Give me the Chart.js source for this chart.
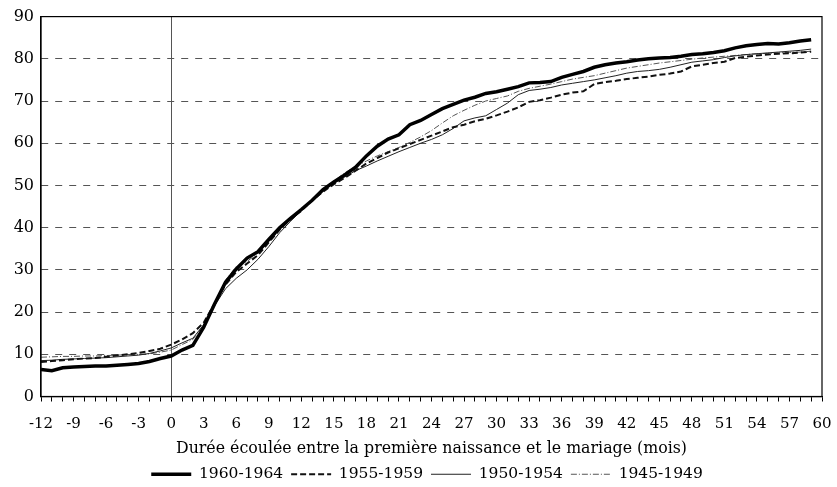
<!DOCTYPE html>
<html>
<head>
<meta charset="utf-8">
<script src="https://cdn.jsdelivr.net/npm/chart.js@4.4.1/dist/chart.umd.min.js"></script>
<style>
  html, body { margin: 0; padding: 0; background: #fff; }
  #wrap { width: 837px; height: 487px; }
</style>
</head>
<body>
<div id="wrap"><canvas id="c" width="837" height="487"></canvas></div>
<script>
const months = [-12,-11,-10,-9,-8,-7,-6,-5,-4,-3,-2,-1,0,1,2,3,4,5,6,7,8,9,10,11,12,13,14,15,16,17,18,19,20,21,22,23,24,25,26,27,28,29,30,31,32,33,34,35,36,37,38,39,40,41,42,43,44,45,46,47,48,49,50,51,52,53,54,55,56,57,58,59];

const cohort1960 = [6.4,6.1,6.8,7.0,7.1,7.2,7.2,7.4,7.6,7.8,8.3,9.0,9.6,11.0,12.1,16.4,21.9,27.0,30.2,32.8,34.3,37.2,40.0,42.2,44.3,46.5,49.0,50.8,52.5,54.3,57.0,59.3,61.0,62.0,64.4,65.4,66.8,68.2,69.2,70.2,70.9,71.8,72.2,72.8,73.4,74.3,74.4,74.6,75.6,76.3,77.0,78.0,78.6,79.0,79.3,79.7,80.0,80.2,80.3,80.6,81.0,81.2,81.5,81.9,82.6,83.1,83.4,83.6,83.5,83.8,84.2,84.5];

const cohort1955 = [8.2,8.4,8.6,8.8,9.0,9.1,9.4,9.7,10.0,10.3,10.8,11.3,12.3,13.5,15.0,17.5,22.0,26.5,29.5,31.5,33.5,36.5,39.5,42.0,44.0,46.5,48.5,50.3,51.8,53.5,55.2,56.5,57.8,58.8,59.8,60.8,61.8,62.8,63.8,64.4,65.2,65.8,66.6,67.5,68.5,69.8,70.2,70.8,71.5,72.0,72.3,74.0,74.5,74.8,75.2,75.5,75.8,76.2,76.5,77.0,78.2,78.6,79.0,79.3,80.2,80.5,80.8,81.0,81.2,81.3,81.5,81.7];

const cohort1950 = [8.5,8.6,8.8,8.9,9.0,9.1,9.2,9.4,9.6,9.8,10.2,10.8,11.5,12.7,13.8,17.0,21.5,25.5,28.0,30.0,32.5,35.5,38.8,41.5,44.0,46.5,48.8,50.5,52.0,53.5,54.6,55.8,56.9,58.0,59.0,60.0,60.9,62.0,63.5,65.3,66.0,66.5,68.0,69.5,71.5,72.5,72.8,73.2,73.8,74.2,74.6,75.0,75.5,76.0,76.6,77.0,77.2,77.5,78.0,78.6,79.2,79.5,79.8,80.3,80.7,81.0,81.2,81.4,81.6,81.8,82.0,82.3];

const cohort1945 = [9.3,9.4,9.5,9.5,9.6,9.6,9.7,9.8,9.9,10.0,10.1,10.5,11.0,12.3,13.5,17.0,22.0,27.5,30.8,32.0,34.0,36.5,39.5,42.0,44.2,46.6,49.0,51.0,53.0,54.5,55.8,57.0,58.0,59.0,60.2,61.5,63.0,64.8,66.5,67.8,69.0,70.0,70.6,71.2,72.3,73.0,73.5,74.0,74.6,75.2,75.6,76.0,76.6,77.2,77.8,78.2,78.6,79.0,79.3,79.6,79.9,80.2,80.4,80.6,80.8,81.0,81.2,81.3,81.4,81.5,81.6,81.8];

const seriesNames = ['1960-1964','1955-1959','1950-1954','1945-1949'];
const xTickLabels = ['-12','-9','-6','-3','0','3','6','9','12','15','18','21','24','27','30','33','36','39','42','45','48','51','54','57','60'];
const yTickLabels = ['0','10','20','30','40','50','60','70','80','90'];
const xTitle = 'Durée écoulée entre la première naissance et le mariage (mois)';

function pts(vals) { return months.map((m, i) => ({ x: m, y: vals[i] })); }

const FONT = '"DejaVu Serif", "Liberation Serif", serif';

const frame = {
  id: 'frame',
  afterLayout(chart) {
    if (chart.legend) { chart.legend.left += 16; chart.legend.right += 16; }
  },
  afterDatasetsDraw(chart) {
    const a = chart.chartArea, ctx = chart.ctx;
    ctx.save();
    ctx.strokeStyle = '#000';
    ctx.lineWidth = 1.2;
    ctx.strokeRect(a.left, a.top, a.right - a.left, a.bottom - a.top);
    ctx.restore();
  }
};

new Chart(document.getElementById('c'), {
  type: 'line',
  data: {
    datasets: [
      { label: seriesNames[0], data: pts(cohort1960), borderColor: '#000', backgroundColor: '#000', borderWidth: 3.5, borderDash: [], pointRadius: 0, tension: 0 },
      { label: seriesNames[1], data: pts(cohort1955), borderColor: '#111', backgroundColor: '#111', borderWidth: 2, borderDash: [6, 3], pointRadius: 0, tension: 0 },
      { label: seriesNames[2], data: pts(cohort1950), borderColor: '#222', backgroundColor: '#222', borderWidth: 1, borderDash: [], pointRadius: 0, tension: 0 },
      { label: seriesNames[3], data: pts(cohort1945), borderColor: '#555', backgroundColor: '#555', borderWidth: 1, borderDash: [6, 2, 1, 2], pointRadius: 0, tension: 0 }
    ]
  },
  options: {
    responsive: false,
    animation: false,
    devicePixelRatio: 1,
    layout: { padding: { top: 14, right: 15, left: 0, bottom: -5 } },
    plugins: {
      tooltip: { enabled: false },
      legend: {
        position: 'bottom',
        labels: {
          color: '#000',
          font: { family: FONT, size: 15.5 },
          usePointStyle: true,
          pointStyle: 'line',
          pointStyleWidth: 40,
          boxWidth: 40,
          padding: 8,
          generateLabels: (chart) => {
            const items = Chart.defaults.plugins.legend.labels.generateLabels(chart);
            items.forEach((it) => {
              const ds = chart.data.datasets[it.datasetIndex];
              it.lineDash = ds.borderDash;
              it.lineWidth = ds.borderWidth;
              it.strokeStyle = ds.borderColor;
              it.pointStyle = 'line';
            });
            return items;
          }
        }
      }
    },
    scales: {
      x: {
        type: 'linear',
        min: -12,
        max: 60,
        ticks: {
          stepSize: 1,
          autoSkip: false,
          maxRotation: 0,
          color: '#000',
          font: { family: FONT, size: 15 },
          padding: 14,
          callback: (v) => xTickLabels.includes(String(v)) ? String(v) : ''
        },
        afterFit: (s) => { s.height = 62; s.paddingRight = 0; s.paddingLeft = 0; },
        grid: {
          drawOnChartArea: true,
          color: (c) => (c.tick && c.tick.value === 0) ? '#555' : 'rgba(0,0,0,0)',
          tickColor: '#000',
          tickLength: 5,
          lineWidth: 1
        },
        border: { display: true, color: '#000', width: 1.2 },
        title: {
          display: true,
          text: xTitle,
          color: '#000',
          font: { family: FONT, size: 15.8 },
          padding: { top: 0, bottom: 0 }
        }
      },
      y: {
        min: 0,
        max: 90,
        ticks: {
          stepSize: 10,
          color: '#000',
          font: { family: FONT, size: 16 },
          padding: 7,
          callback: (v) => yTickLabels.includes(String(v)) ? String(v) : ''
        },
        afterFit: (s) => { s.width = 41; },
        grid: {
          color: (c) => (c.tick && (c.tick.value === 0 || c.tick.value === 90)) ? 'rgba(0,0,0,0)' : '#555',
          tickLength: 0,
          lineWidth: 1
        },
        border: { display: true, color: '#000', width: 1.2, dash: [7, 7] }
      }
    }
  },
  plugins: [frame]
});
</script>
</body>
</html>
